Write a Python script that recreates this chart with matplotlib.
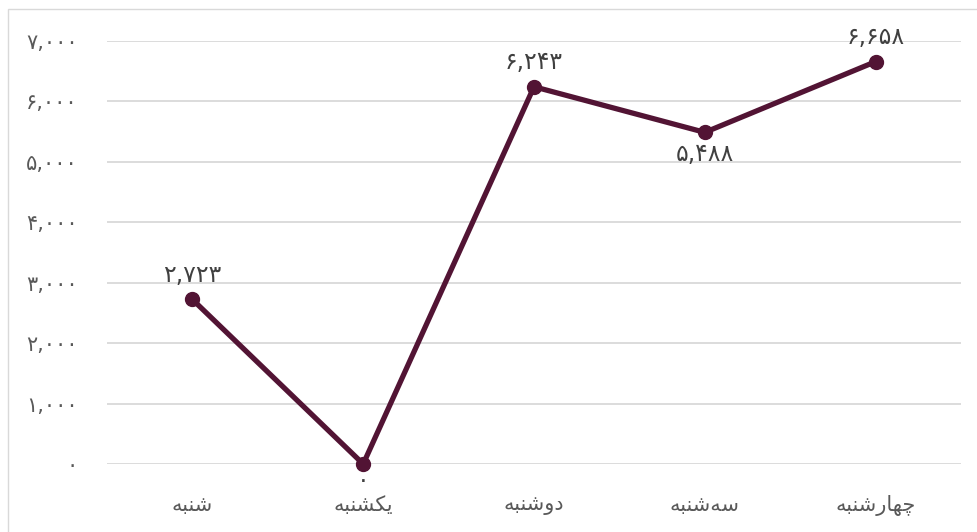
import matplotlib
matplotlib.use("Agg")
import matplotlib.pyplot as plt
from matplotlib.ticker import FuncFormatter
from matplotlib.patches import Rectangle

# ---- data ----
days = ["شنبه", "یکشنبه", "دوشنبه", "سه\u200cشنبه", "چهارشنبه"]
values = [2723, 0, 6243, 5488, 6658]
label_pos = ["above", "below", "above", "below", "above"]
yticks = [0, 1000, 2000, 3000, 4000, 5000, 6000, 7000]

# ---- minimal Arabic/Persian shaper (presentation forms, visual order) ----
FORMS = {
    "ا": ("\uFE8D", "\uFE8E", None, None),
    "ب": ("\uFE8F", "\uFE90", "\uFE91", "\uFE92"),
    "چ": ("\uFB7A", "\uFB7B", "\uFB7C", "\uFB7D"),
    "د": ("\uFEA9", "\uFEAA", None, None),
    "ر": ("\uFEAD", "\uFEAE", None, None),
    "س": ("\uFEB1", "\uFEB2", "\uFEB3", "\uFEB4"),
    "ش": ("\uFEB5", "\uFEB6", "\uFEB7", "\uFEB8"),
    "ک": ("\uFB8E", "\uFB8F", "\uFB90", "\uFB91"),
    "ن": ("\uFEE5", "\uFEE6", "\uFEE7", "\uFEE8"),
    "و": ("\uFEED", "\uFEEE", None, None),
    "ه": ("\uFEE9", "\uFEEA", "\uFEEB", "\uFEEC"),
    "ی": ("\uFBFC", "\uFBFD", "\uFBFE", "\uFBFF"),
}

def joins_left(c):
    f = FORMS.get(c)
    return f is not None and f[2] is not None

def shape(text):
    out = []
    chars = list(text)
    for i, c in enumerate(chars):
        if c not in FORMS:
            if c == "\u200c":
                continue
            out.append(c)
            continue
        prev = chars[i - 1] if i > 0 else None
        nxt = chars[i + 1] if i + 1 < len(chars) else None
        conn_prev = prev is not None and joins_left(prev)
        conn_next = nxt is not None and nxt in FORMS and joins_left(c)
        iso, fin, ini, med = FORMS[c]
        if conn_prev and conn_next:
            out.append(med)
        elif conn_prev:
            out.append(fin)
        elif conn_next:
            out.append(ini)
        else:
            out.append(iso)
    return "".join(reversed(out))

PDIG = str.maketrans("0123456789", "۰۱۲۳۴۵۶۷۸۹")

def fa_num(v):
    return f"{int(v):,}".translate(PDIG)

plt.rcParams["font.family"] = ["DejaVu Sans", "Noto Sans"]

fig = plt.figure(figsize=(9.78, 5.32), dpi=100)
ax = fig.add_axes([107 / 978, 1 - 464 / 532, (961 - 107) / 978, (464 - 41) / 532])

# outer frame
fig.patches.append(Rectangle((8 / 978, -0.05), 1.1, 1 - 9 / 532 + 0.05,
                             transform=fig.transFigure, fill=False,
                             edgecolor="#d9d9d9", lw=1.0))

line_color = "#521434"
x = list(range(len(days)))
ax.plot(x, values, color=line_color, lw=3.8, marker="o", markersize=10,
        solid_capstyle="round", zorder=3, clip_on=False)

for xi, v, pos in zip(x, values, label_pos):
    if pos == "above":
        ax.annotate(fa_num(v), (xi, v), xytext=(0, 9), textcoords="offset points",
                    ha="center", va="bottom", fontsize=17, color="#404040")
    else:
        off = -3 if v == 0 else -7
        ax.annotate(fa_num(v), (xi, v), xytext=(0, off), textcoords="offset points",
                    ha="center", va="top", fontsize=17, color="#404040")

ax.set_xlim(-0.5, len(days) - 0.5)
ax.set_ylim(0, 7000)
ax.set_yticks(yticks)
ax.yaxis.set_major_formatter(FuncFormatter(lambda v, p: fa_num(v)))
ax.set_xticks(x)
ax.set_xticklabels([shape(d) for d in days])
ax.tick_params(axis="y", length=0, pad=21, labelsize=15, labelcolor="#595959")
ax.tick_params(axis="x", length=0, pad=22, labelsize=15, labelcolor="#595959")
ax.grid(axis="y", color="#d9d9d9", lw=1.3)
ax.set_axisbelow(True)
for s in ax.spines.values():
    s.set_visible(False)

fig.savefig("out.png", dpi=100)
